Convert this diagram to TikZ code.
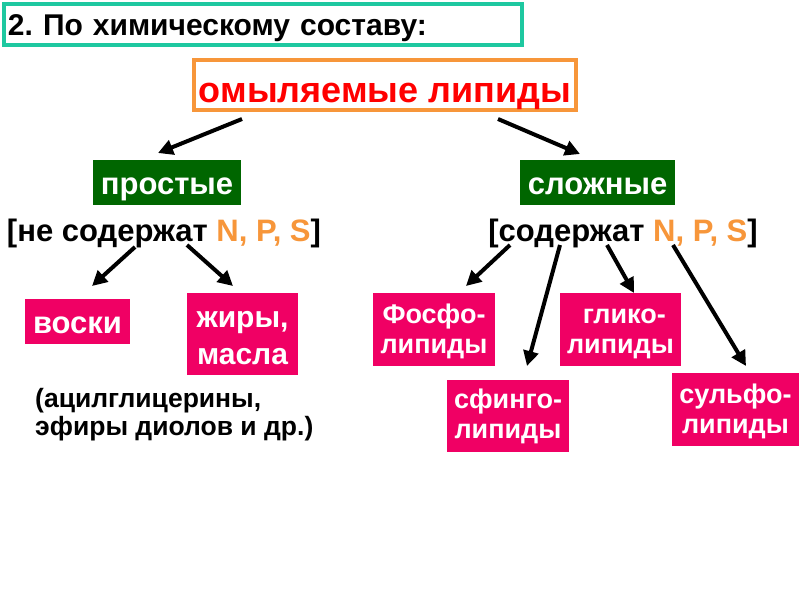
\documentclass[tikz,border=0pt]{standalone}
\usepackage{fontspec}
\setmainfont{Liberation Sans}
\usetikzlibrary{arrows.meta}
\definecolor{teal1}{RGB}{30,200,160}
\definecolor{orng}{RGB}{247,150,58}
\definecolor{grn}{RGB}{0,102,0}
\definecolor{pnk}{RGB}{240,0,100}
\definecolor{redt}{RGB}{255,0,0}
\tikzset{
  greenbox/.style={fill=grn, text=white, inner sep=0pt, text height=27pt, text depth=3pt, font=\fontsize{31}{34}\selectfont\bfseries},
  pinkbox/.style={fill=pnk, text=white, inner sep=0pt, align=center, font=\fontsize{27}{30}\selectfont\bfseries},
  arr/.style={line width=4pt, -{Triangle[length=15pt,width=15pt]}},
  btext/.style={inner sep=0pt, anchor=base, font=\fontsize{31}{34}\selectfont\bfseries}
}
\newcommand{\nps}{\textcolor{orng}{N, P, S}}
\newcommand{\lastd}{\rule[-6pt]{0pt}{6pt}}
\begin{document}
\frenchspacing
\begin{tikzpicture}[x=1pt,y=-1pt]
\useasboundingbox (0,0) rectangle (800,600);
\fill[white] (0,0) rectangle (800,600);
% title
\node[draw=teal1, line width=4pt, minimum width=518pt, minimum height=41pt, inner xsep=4pt, inner ysep=0pt, text width=510pt, text height=25pt, text depth=4pt, align=left, font=\fontsize{30}{32}\selectfont\bfseries] (title) at (263,24.5) {2. По химическому составу:};
% top
\node[draw=orng, line width=4pt, minimum width=382pt, minimum height=50pt, inner sep=0pt, text height=39pt, text depth=4pt, text=redt, font=\fontsize{36}{40}\selectfont\bfseries] (top) at (385,85) {омыляемые липиды};
% green
\node[greenbox, minimum width=148pt, minimum height=45pt] (prost) at (167,182.5) {простые};
\node[greenbox, minimum width=155pt, minimum height=45pt] (slozh) at (597.5,182.5) {сложные};
% brackets
\node[btext] (ne) at (164,241) {[не содержат \nps]};
\node[btext] (so) at (623,241) {[содержат \nps]};
% pink
\node[pinkbox, minimum width=105pt, minimum height=45pt, text height=26pt, text depth=3pt, font=\fontsize{31}{34}\selectfont\bfseries] (voski) at (77.5,321.5) {воски};
\node[pinkbox, minimum width=111pt, minimum height=82pt, font=\fontsize{30}{37}\selectfont\bfseries] (zhiry) at (242.5,334) {\rule{0pt}{24pt}жиры,\\масла};
\node[pinkbox, minimum width=122pt, minimum height=73pt] (fosfo) at (434,329.5) {\rule{0pt}{23pt}Фосфо-\\липиды\lastd};
\node[pinkbox, minimum width=121pt, minimum height=73pt] (gliko) at (620.5,329.5) {\rule{0pt}{23pt}\ глико-\\липиды\lastd};
\node[pinkbox, minimum width=122pt, minimum height=72pt] (sfingo) at (508,416) {\rule{0pt}{20pt}сфинго-\\липиды\lastd};
\node[pinkbox, minimum width=127pt, minimum height=73pt] (sulfo) at (735.5,409.5) {\rule{0pt}{23pt}сульфо-\\липиды\lastd};
\node[anchor=base west, inner sep=0pt, align=left, font=\fontsize{26.5}{28}\selectfont\bfseries] (acyl) at (35,435) {(ацилглицерины,\\эфиры диолов и др.)};
% coordinates
\coordinate (t1) at (242,119); \coordinate (t1e) at (158,153);
\coordinate (t2) at (498,119); \coordinate (t2e) at (580,154);
\coordinate (a1) at (135,247); \coordinate (a1e) at (92,286);
\coordinate (a2) at (187,245); \coordinate (a2e) at (233,286);
\coordinate (b1) at (510,245); \coordinate (b1e) at (466,286);
\coordinate (b2) at (560,245); \coordinate (b2e) at (527,366);
\coordinate (b3) at (607,245); \coordinate (b3e) at (634,293);
\coordinate (b4) at (673,245); \coordinate (b4e) at (746,366);
\draw[arr] (t1) -- (t1e);
\draw[arr] (t2) -- (t2e);
\draw[arr] (a1) -- (a1e);
\draw[arr] (a2) -- (a2e);
\draw[arr] (b1) -- (b1e);
\draw[arr] (b2) -- (b2e);
\draw[arr] (b3) -- (b3e);
\draw[arr] (b4) -- (b4e);
\end{tikzpicture}
\end{document}
